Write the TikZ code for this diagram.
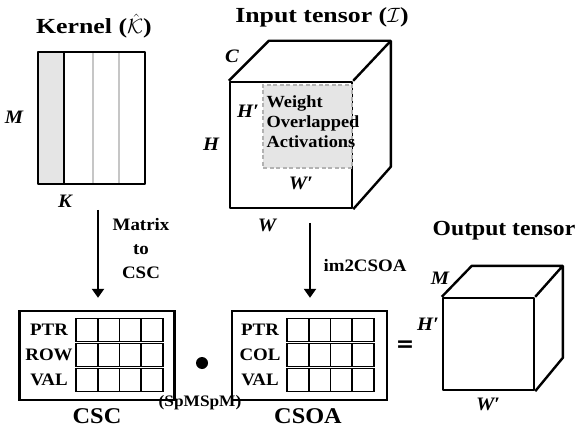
\documentclass[tikz,border=0pt]{standalone}
\usepackage{amsmath}
\usepackage{fontspec}
\setmainfont{Liberation Serif}[FakeStretch=1.08]
\newfontfamily\headfont{Liberation Serif}[FakeStretch=1.2]
\newfontfamily\outfont{Liberation Serif}[FakeStretch=1.1]
\newfontfamily\symfont{DejaVu Sans}
\usetikzlibrary{positioning, arrows.meta, calc}

\begin{document}
\begin{tikzpicture}[x=1pt, y=-1pt,
  every node/.style={font=\bfseries\fontsize{17.5}{20}\selectfont, inner sep=0pt},
  heading/.style={font=\headfont\bfseries\fontsize{21.5}{24}\selectfont, anchor=base},
  dim/.style={font=\bfseries\itshape\fontsize{19}{22}\selectfont},
  fmtname/.style={font=\bfseries\fontsize{22.5}{26}\selectfont},
  edge/.style={line width=2.4pt, line join=round},
  face/.style={draw, edge, rectangle},
  cell/.style={draw, line width=1.8pt, minimum width=21.75pt, minimum height=23pt},
  holder/.style={draw, line width=2.4pt, minimum width=155pt, minimum height=89pt},
  conv/.style={-{Triangle[length=9pt, width=12pt]}, line width=2.4pt},
]
\useasboundingbox (0,0) rectangle (577,435);

% --- Kernel matrix (left)
\node[heading] (kernel-title) at (94,34) {Kernel ($\hat{\mathcal{K}}$)};
\fill[gray!20] (38,52) rectangle (64,184);
\draw[gray!45, line width=1.5pt] (93,52) -- (93,184) (119,52) -- (119,184);
\draw[edge] (64,52) -- (64,184);
\node[face, minimum width=107pt, minimum height=132pt] (kernel) at (91.5,118) {};
\node[dim] (kernel-m) at (14,117) {M};
\node[dim] (kernel-k) at (65,201) {K};

% --- Input tensor cube
\node[heading] (input-title) at (322,23) {Input tensor ($\mathcal{I}$)};
\node[face, minimum width=122pt, minimum height=126pt] (input) at (291,145) {};
\draw[edge] (input.north west) -- ++(40,-40) coordinate (input-back)
  -- ++(122,0) coordinate (input-corner) -- ++(0,126) -- (input.south east)
  (input-corner) -- (input.north east);
\node[draw=gray!60, fill=gray!20, line width=1.8pt, dash pattern=on 4pt off 2.5pt,
      minimum width=89pt, minimum height=83pt, anchor=north east]
  (overlap) at ($(input.north east)+(0,3)$) {};
\node[anchor=north west, align=left, font=\bfseries\fontsize{17}{20}\selectfont]
  (overlap-text) at ($(overlap.north west)+(4,12)$) {Weight\\Overlapped\\Activations};
\node[dim] (input-c) at (232,56) {C};
\node[dim] (input-h) at (211,144) {H};
\node[dim] (input-hp) at (248,111) {H′};
\node[dim] (input-wp) at (301,183) {W′};
\node[dim] (input-w) at (267,225) {W};

% --- Sparse formats (bottom)
\node[holder] (csc) at (97,355.5) {};
\node[holder] (csoa) at (309.5,355.5) {};
\foreach \lbl [count=\r] in {PTR,ROW,VAL} {
  \node (csc-l\r) at (49,305+25*\r) {\lbl};
  \foreach \c in {1,...,4}
    \node[cell] (csc-\r-\c) at (65.125+21.75*\c,305+25*\r) {};
}
\foreach \lbl [count=\r] in {PTR,COL,VAL} {
  \node (csoa-l\r) at (260,305+25*\r) {\lbl};
  \foreach \c in {1,...,4}
    \node[cell] (csoa-\r-\c) at (276.125+21.75*\c,305+25*\r) {};
}
\node[fmtname] (csc-name) at (97,416) {CSC};
\node[fmtname] (csoa-name) at (308,416) {CSOA};
\node[circle, fill, minimum size=12pt] (dot) at (202,363) {};
\node[font=\bfseries\fontsize{16}{18}\selectfont] (spmspm) at (200,403) {(SpMSpM)};
\node[font=\symfont\bfseries\fontsize{22}{22}\selectfont] (equals) at (405,346) {=};

% --- Conversions
\coordinate (k2c) at (98,210);
\coordinate (i2c) at (310,223);
\draw[conv, shorten >=12pt] (k2c) -- (k2c |- csc.north);
\draw[conv, shorten >=12pt] (i2c) -- (i2c |- csoa.north);
\node[align=center, font=\bfseries\fontsize{17.5}{24}\selectfont] (k2c-label) at (141,249)
  {Matrix\\to\\CSC};
\node (i2c-label) at (365,266) {im2CSOA};

% --- Output tensor cube
\node[heading, font=\outfont\bfseries\fontsize{21.5}{24}\selectfont] (output-title)
  at (504,236) {Output tensor};
\node[face, minimum width=91pt, minimum height=92pt] (output) at (488.5,344) {};
\draw[edge] (output.north west) -- ++(30,-31)
  -- ++(91,0) coordinate (output-corner) -- ++(0,92) -- (output.south east)
  (output-corner) -- (output.north east);
\node[dim] (output-m) at (440,278) {M};
\node[dim] (output-hp) at (428,324) {H′};
\node[dim] (output-wp) at (488,404) {W′};

\end{tikzpicture}
\end{document}
